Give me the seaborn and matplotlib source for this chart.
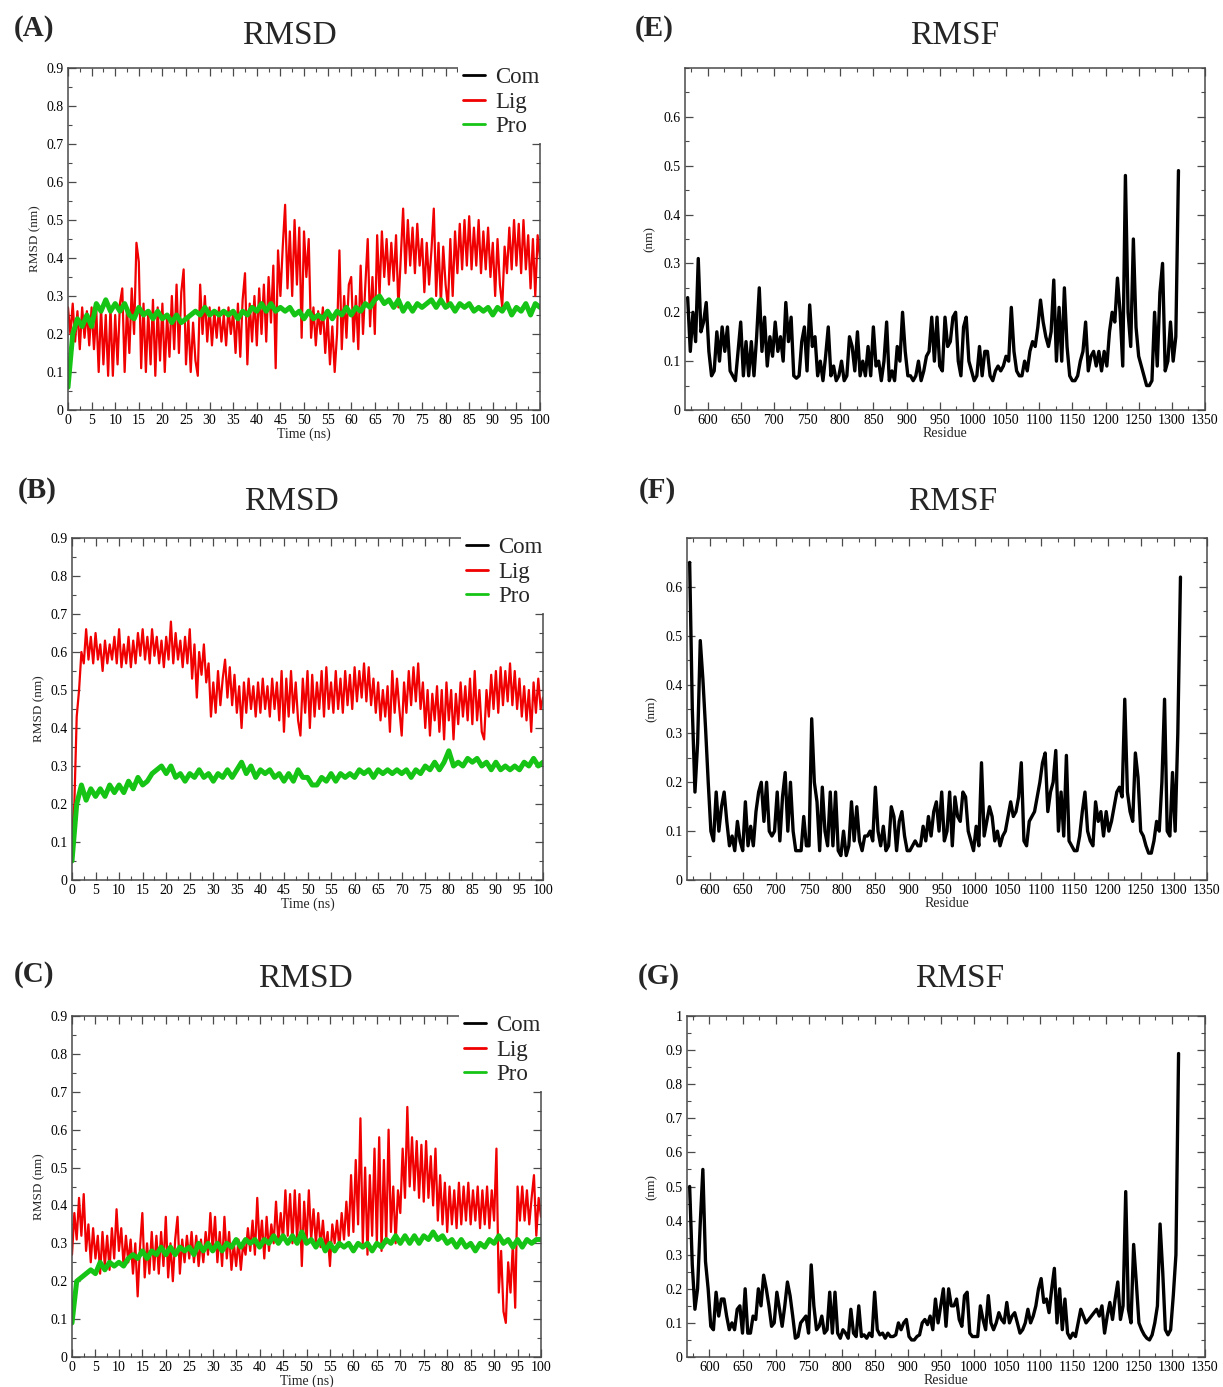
import numpy as np
import matplotlib
matplotlib.use("Agg")
import matplotlib.pyplot as plt
from matplotlib.lines import Line2D
from matplotlib.ticker import MultipleLocator, FixedLocator, FuncFormatter
import seaborn as sns

# ---------------- data ----------------
# RMSD ligand series, sampled every 0.5 ns from 0 to 100 ns
lig_A = [0.27, 0.2, 0.28, 0.18, 0.26, 0.16, 0.27, 0.19, 0.26, 0.17,
         0.27, 0.16, 0.26, 0.1, 0.27, 0.12, 0.25, 0.09, 0.27, 0.09,
         0.25, 0.12, 0.28, 0.32, 0.1, 0.27, 0.15, 0.32, 0.2, 0.44,
         0.39, 0.11, 0.28, 0.1, 0.26, 0.12, 0.29, 0.09, 0.27, 0.13,
         0.28, 0.1, 0.25, 0.14, 0.3, 0.16, 0.33, 0.15, 0.31, 0.37,
         0.12, 0.24, 0.1, 0.23, 0.13, 0.09, 0.33, 0.2, 0.3, 0.18,
         0.27, 0.17, 0.26, 0.19, 0.27, 0.18, 0.25, 0.17, 0.27, 0.2,
         0.26, 0.15, 0.28, 0.14, 0.29, 0.36, 0.12, 0.28, 0.18, 0.3,
         0.17, 0.32, 0.2, 0.33, 0.18, 0.35, 0.23, 0.38, 0.11, 0.42,
         0.3, 0.43, 0.54, 0.32, 0.47, 0.3, 0.5, 0.33, 0.48, 0.19,
         0.47, 0.35, 0.45, 0.19, 0.27, 0.17, 0.26, 0.2, 0.27, 0.15,
         0.25, 0.12, 0.22, 0.1, 0.2, 0.42, 0.16, 0.3, 0.19, 0.33,
         0.35, 0.18, 0.3, 0.16, 0.38, 0.2, 0.33, 0.45, 0.22, 0.35,
         0.2, 0.46, 0.3, 0.47, 0.35, 0.45, 0.33, 0.44, 0.34, 0.46,
         0.27, 0.4, 0.53, 0.36, 0.5, 0.38, 0.48, 0.36, 0.49, 0.38,
         0.45, 0.31, 0.44, 0.33, 0.42, 0.53, 0.3, 0.44, 0.28, 0.43,
         0.33, 0.27, 0.45, 0.3, 0.47, 0.36, 0.49, 0.37, 0.5, 0.38,
         0.51, 0.37, 0.48, 0.38, 0.5, 0.36, 0.47, 0.37, 0.48, 0.35,
         0.44, 0.3, 0.45, 0.33, 0.27, 0.43, 0.36, 0.48, 0.37, 0.5,
         0.38, 0.49, 0.36, 0.5, 0.37, 0.46, 0.32, 0.45, 0.3, 0.46,
         0.4]
lig_B = [0.12, 0.2, 0.43, 0.5, 0.6, 0.57, 0.66, 0.58, 0.64, 0.57,
         0.65, 0.58, 0.62, 0.55, 0.63, 0.57, 0.62, 0.58, 0.64, 0.57,
         0.66, 0.56, 0.62, 0.57, 0.64, 0.56, 0.63, 0.57, 0.65, 0.59,
         0.66, 0.58, 0.64, 0.57, 0.66, 0.59, 0.64, 0.57, 0.63, 0.56,
         0.64, 0.58, 0.68, 0.57, 0.65, 0.58, 0.63, 0.56, 0.64, 0.57,
         0.66, 0.53, 0.62, 0.48, 0.6, 0.54, 0.62, 0.52, 0.57, 0.43,
         0.52, 0.44, 0.55, 0.46, 0.53, 0.58, 0.48, 0.56, 0.46, 0.54,
         0.44, 0.51, 0.4, 0.52, 0.44, 0.53, 0.45, 0.51, 0.43, 0.52,
         0.44, 0.53, 0.45, 0.51, 0.43, 0.53, 0.45, 0.52, 0.42, 0.55,
         0.39, 0.53, 0.43, 0.55, 0.44, 0.52, 0.42, 0.38, 0.53, 0.44,
         0.55, 0.4, 0.54, 0.43, 0.52, 0.45, 0.55, 0.43, 0.56, 0.45,
         0.52, 0.44, 0.55, 0.45, 0.53, 0.44, 0.55, 0.46, 0.54, 0.45,
         0.56, 0.47, 0.55, 0.48, 0.57, 0.47, 0.56, 0.46, 0.53, 0.44,
         0.52, 0.42, 0.5, 0.43, 0.51, 0.39, 0.55, 0.44, 0.53, 0.45,
         0.38, 0.52, 0.44, 0.55, 0.46, 0.56, 0.47, 0.57, 0.45, 0.52,
         0.4, 0.5, 0.38, 0.49, 0.42, 0.51, 0.39, 0.5, 0.37, 0.52,
         0.42, 0.5, 0.37, 0.49, 0.41, 0.52, 0.43, 0.51, 0.42, 0.53,
         0.41, 0.55, 0.42, 0.5, 0.39, 0.37, 0.5, 0.43, 0.54, 0.45,
         0.55, 0.44, 0.56, 0.46, 0.55, 0.47, 0.57, 0.46, 0.55, 0.45,
         0.53, 0.43, 0.51, 0.42, 0.5, 0.39, 0.52, 0.44, 0.53, 0.45,
         0.48]
lig_C = [0.27, 0.38, 0.31, 0.42, 0.32, 0.43, 0.28, 0.35, 0.25, 0.34,
         0.26, 0.32, 0.22, 0.33, 0.24, 0.32, 0.23, 0.34, 0.26, 0.39,
         0.28, 0.34, 0.24, 0.32, 0.25, 0.31, 0.22, 0.3, 0.16, 0.29,
         0.38, 0.21, 0.3, 0.22, 0.33, 0.23, 0.32, 0.22, 0.33, 0.24,
         0.37, 0.21, 0.3, 0.2, 0.31, 0.37, 0.22, 0.31, 0.25, 0.32,
         0.26, 0.33, 0.25, 0.32, 0.24, 0.31, 0.25, 0.33, 0.27, 0.38,
         0.28, 0.37, 0.25, 0.33, 0.24, 0.37, 0.26, 0.33, 0.23, 0.3,
         0.24, 0.31, 0.23, 0.3, 0.27, 0.34, 0.28, 0.36, 0.27, 0.42,
         0.29, 0.36, 0.26, 0.37, 0.28, 0.35, 0.3, 0.41, 0.3, 0.38,
         0.31, 0.44, 0.32, 0.43, 0.3, 0.44, 0.31, 0.43, 0.24, 0.41,
         0.3, 0.44, 0.31, 0.39, 0.3, 0.38, 0.29, 0.36, 0.28, 0.33,
         0.24, 0.35, 0.3, 0.36, 0.29, 0.38, 0.31, 0.41, 0.32, 0.48,
         0.33, 0.52, 0.35, 0.63, 0.3, 0.5, 0.27, 0.48, 0.32, 0.55,
         0.3, 0.58, 0.28, 0.52, 0.3, 0.6, 0.33, 0.45, 0.3, 0.44,
         0.38, 0.55, 0.42, 0.66, 0.45, 0.58, 0.44, 0.57, 0.42, 0.56,
         0.41, 0.57, 0.42, 0.53, 0.4, 0.55, 0.36, 0.48, 0.35, 0.46,
         0.33, 0.45, 0.35, 0.44, 0.34, 0.46, 0.35, 0.45, 0.36, 0.46,
         0.35, 0.44, 0.36, 0.45, 0.34, 0.44, 0.35, 0.45, 0.34, 0.44,
         0.36, 0.55, 0.17, 0.28, 0.12, 0.09, 0.25, 0.17, 0.3, 0.13,
         0.45, 0.36, 0.45, 0.36, 0.44, 0.35, 0.42, 0.48, 0.32, 0.42,
         0.37]

# RMSD protein series, sampled every 1 ns from 0 to 100 ns
pro_A = [0.06, 0.2, 0.24, 0.22, 0.25, 0.22, 0.28, 0.26, 0.29, 0.26,
         0.28, 0.26, 0.28, 0.25, 0.24, 0.27, 0.25, 0.26, 0.24, 0.26,
         0.24, 0.25, 0.23, 0.25, 0.23, 0.24, 0.25, 0.26, 0.25, 0.27,
         0.25, 0.26, 0.25, 0.26, 0.25, 0.26, 0.24, 0.26, 0.25, 0.27,
         0.26, 0.28, 0.26, 0.28, 0.26, 0.27, 0.26, 0.27, 0.25, 0.26,
         0.24, 0.26, 0.24, 0.25, 0.24, 0.26, 0.24, 0.26, 0.25, 0.27,
         0.25, 0.27, 0.26, 0.28, 0.27, 0.29, 0.3, 0.28, 0.29, 0.27,
         0.29, 0.26, 0.28, 0.26, 0.28, 0.27, 0.28, 0.29, 0.27, 0.29,
         0.27, 0.28, 0.26, 0.28, 0.27, 0.28, 0.26, 0.27, 0.26, 0.27,
         0.25, 0.27, 0.26, 0.28, 0.25, 0.27, 0.26, 0.28, 0.25, 0.28,
         0.27]
pro_B = [0.05, 0.2, 0.25, 0.21, 0.24, 0.22, 0.24, 0.22, 0.25, 0.23,
         0.25, 0.23, 0.26, 0.24, 0.27, 0.25, 0.26, 0.28, 0.29, 0.3,
         0.28, 0.3, 0.27, 0.28, 0.26, 0.28, 0.27, 0.29, 0.27, 0.28,
         0.26, 0.28, 0.27, 0.29, 0.27, 0.29, 0.31, 0.28, 0.3, 0.27,
         0.29, 0.28, 0.29, 0.27, 0.28, 0.26, 0.28, 0.26, 0.29, 0.27,
         0.27, 0.25, 0.25, 0.27, 0.26, 0.28, 0.26, 0.28, 0.27, 0.28,
         0.27, 0.29, 0.28, 0.29, 0.27, 0.29, 0.28, 0.29, 0.28, 0.29,
         0.28, 0.29, 0.27, 0.29, 0.28, 0.3, 0.29, 0.31, 0.29, 0.31,
         0.34, 0.3, 0.31, 0.3, 0.32, 0.31, 0.32, 0.3, 0.31, 0.29,
         0.31, 0.29, 0.3, 0.29, 0.3, 0.29, 0.31, 0.3, 0.32, 0.3,
         0.31]
pro_C = [0.09, 0.2, 0.21, 0.22, 0.23, 0.22, 0.25, 0.23, 0.25, 0.24,
         0.25, 0.24, 0.26, 0.27, 0.26, 0.28, 0.26, 0.28, 0.27, 0.29,
         0.27, 0.29, 0.27, 0.29, 0.28, 0.29, 0.27, 0.3, 0.28, 0.3,
         0.28, 0.3, 0.28, 0.3, 0.29, 0.31, 0.29, 0.31, 0.3, 0.31,
         0.29, 0.31, 0.3, 0.32, 0.3, 0.32, 0.3, 0.32, 0.3, 0.33,
         0.3, 0.31, 0.29, 0.31, 0.28, 0.3, 0.28, 0.3, 0.29, 0.3,
         0.28, 0.3, 0.29, 0.3, 0.28, 0.3, 0.29, 0.31, 0.3, 0.32,
         0.3, 0.32, 0.3, 0.32, 0.3, 0.32, 0.31, 0.33, 0.31, 0.32,
         0.3, 0.31, 0.29, 0.31, 0.29, 0.3, 0.28, 0.3, 0.29, 0.31,
         0.3, 0.32, 0.3, 0.31, 0.29, 0.31, 0.29, 0.31, 0.3, 0.31,
         0.31]

# RMSF series, residues 570, 574, ... (step 4)
rmsf_E = [0.23, 0.12, 0.2, 0.14, 0.31, 0.16, 0.18, 0.22, 0.12, 0.07,
          0.08, 0.16, 0.1, 0.17, 0.12, 0.17, 0.08, 0.07, 0.06, 0.12,
          0.18, 0.07, 0.14, 0.07, 0.14, 0.07, 0.15, 0.25, 0.12, 0.19,
          0.09, 0.15, 0.11, 0.18, 0.12, 0.15, 0.1, 0.22, 0.14, 0.19,
          0.07, 0.065, 0.07, 0.14, 0.17, 0.08, 0.215, 0.13, 0.15, 0.07,
          0.1, 0.06, 0.11, 0.17, 0.07, 0.09, 0.06, 0.07, 0.1, 0.06,
          0.07, 0.15, 0.13, 0.08, 0.16, 0.07, 0.1, 0.07, 0.13, 0.07,
          0.17, 0.09, 0.1, 0.06, 0.1, 0.18, 0.06, 0.08, 0.06, 0.13,
          0.1, 0.2, 0.12, 0.07, 0.07, 0.06, 0.07, 0.1, 0.06, 0.08,
          0.11, 0.12, 0.19, 0.1, 0.19, 0.09, 0.08, 0.19, 0.13, 0.14,
          0.19, 0.2, 0.1, 0.07, 0.17, 0.19, 0.1, 0.08, 0.06, 0.07,
          0.13, 0.07, 0.12, 0.12, 0.07, 0.06, 0.08, 0.09, 0.08, 0.09,
          0.11, 0.1, 0.21, 0.12, 0.08, 0.07, 0.07, 0.1, 0.08, 0.12,
          0.14, 0.13, 0.17, 0.225, 0.18, 0.15, 0.13, 0.16, 0.266, 0.1,
          0.21, 0.1, 0.25, 0.13, 0.07, 0.06, 0.06, 0.07, 0.1, 0.12,
          0.18, 0.08, 0.11, 0.12, 0.09, 0.12, 0.08, 0.12, 0.09, 0.16,
          0.2, 0.18, 0.27, 0.2, 0.09, 0.48, 0.2, 0.13, 0.35, 0.17,
          0.11, 0.09, 0.07, 0.05, 0.05, 0.06, 0.2, 0.09, 0.24, 0.3,
          0.08, 0.1, 0.18, 0.1, 0.15, 0.49]
rmsf_F = [0.65, 0.35, 0.18, 0.28, 0.49, 0.41, 0.31, 0.2, 0.1, 0.08,
          0.18, 0.1, 0.15, 0.18, 0.12, 0.07, 0.09, 0.06, 0.12, 0.08,
          0.06, 0.16, 0.07, 0.11, 0.07, 0.14, 0.18, 0.2, 0.12, 0.2,
          0.1, 0.09, 0.1, 0.18, 0.08, 0.17, 0.22, 0.1, 0.2, 0.1,
          0.06, 0.06, 0.06, 0.13, 0.07, 0.07, 0.33, 0.2, 0.16, 0.06,
          0.19, 0.1, 0.07, 0.18, 0.07, 0.18, 0.06, 0.05, 0.1, 0.05,
          0.07, 0.16, 0.08, 0.15, 0.08, 0.06, 0.09, 0.09, 0.1, 0.08,
          0.19, 0.1, 0.07, 0.11, 0.06, 0.07, 0.15, 0.13, 0.06, 0.12,
          0.14, 0.09, 0.06, 0.06, 0.07, 0.08, 0.07, 0.07, 0.11, 0.08,
          0.13, 0.09, 0.14, 0.16, 0.1, 0.18, 0.08, 0.1, 0.18, 0.07,
          0.17, 0.13, 0.12, 0.18, 0.17, 0.1, 0.08, 0.06, 0.11, 0.07,
          0.24, 0.09, 0.12, 0.15, 0.13, 0.08, 0.1, 0.07, 0.09, 0.1,
          0.13, 0.16, 0.13, 0.14, 0.17, 0.24, 0.08, 0.07, 0.12, 0.13,
          0.14, 0.17, 0.2, 0.24, 0.26, 0.14, 0.18, 0.2, 0.265, 0.1,
          0.18, 0.09, 0.255, 0.08, 0.07, 0.06, 0.06, 0.09, 0.14, 0.18,
          0.1, 0.08, 0.07, 0.16, 0.12, 0.14, 0.09, 0.14, 0.1, 0.12,
          0.15, 0.18, 0.19, 0.17, 0.37, 0.18, 0.14, 0.12, 0.26, 0.21,
          0.1, 0.09, 0.07, 0.055, 0.055, 0.08, 0.12, 0.1, 0.2, 0.37,
          0.1, 0.09, 0.22, 0.1, 0.3, 0.62]
rmsf_G = [0.5, 0.27, 0.14, 0.2, 0.39, 0.55, 0.28, 0.2, 0.09, 0.08,
          0.19, 0.12, 0.17, 0.17, 0.12, 0.08, 0.1, 0.08, 0.14, 0.15,
          0.07, 0.2, 0.07, 0.07, 0.12, 0.11, 0.2, 0.15, 0.24, 0.2,
          0.15, 0.09, 0.1, 0.19, 0.14, 0.09, 0.15, 0.22, 0.18, 0.12,
          0.055, 0.06, 0.1, 0.11, 0.12, 0.07, 0.27, 0.15, 0.08, 0.09,
          0.12, 0.07, 0.08, 0.19, 0.07, 0.19, 0.07, 0.055, 0.08, 0.07,
          0.055, 0.14, 0.07, 0.06, 0.15, 0.06, 0.065, 0.055, 0.07, 0.06,
          0.19, 0.08, 0.065, 0.07, 0.055, 0.07, 0.06, 0.06, 0.065, 0.1,
          0.08, 0.1, 0.11, 0.06, 0.05, 0.05, 0.06, 0.065, 0.1, 0.11,
          0.095, 0.12, 0.08, 0.17, 0.1, 0.15, 0.2, 0.09, 0.2, 0.15,
          0.15, 0.17, 0.11, 0.09, 0.18, 0.19, 0.07, 0.06, 0.06, 0.06,
          0.15, 0.11, 0.08, 0.18, 0.1, 0.08, 0.1, 0.13, 0.11, 0.1,
          0.16, 0.1, 0.12, 0.13, 0.1, 0.07, 0.08, 0.1, 0.14, 0.1,
          0.12, 0.15, 0.2, 0.23, 0.16, 0.17, 0.13, 0.2, 0.26, 0.1,
          0.2, 0.08, 0.17, 0.07, 0.055, 0.07, 0.06, 0.1, 0.14, 0.12,
          0.1, 0.11, 0.12, 0.13, 0.14, 0.12, 0.15, 0.07, 0.12, 0.16,
          0.11, 0.17, 0.22, 0.11, 0.15, 0.485, 0.14, 0.1, 0.33, 0.22,
          0.1, 0.08, 0.065, 0.055, 0.05, 0.065, 0.1, 0.15, 0.39, 0.25,
          0.08, 0.065, 0.08, 0.18, 0.3, 0.89]

series_labels = ["Com", "Lig", "Pro"]
panel_letters = ["(A)", "(B)", "(C)", "(E)", "(F)", "(G)"]

# ---------------- style ----------------
sns.set_theme(style="ticks")
SERIF = ["Liberation Serif", "DejaVu Serif"]
plt.rcParams["font.family"] = SERIF

W, H = 1223, 1387
fig = plt.figure(figsize=(W / 100, H / 100), dpi=100)


def box(l, t, r, b):
    return [l / W, 1 - b / H, (r - l) / W, (b - t) / H]


FRAME = "#4a4a4a"
RED = "#f00000"
GREEN = "#16c416"
fmt = FuncFormatter(lambda v, _: ("%g" % round(v, 3)))


def style(ax):
    for s in ax.spines.values():
        s.set_color(FRAME)
        s.set_linewidth(1.1)
    ax.tick_params(which="both", direction="in", top=True, right=True,
                   colors=FRAME, labelcolor="black", labelsize=10, pad=3)
    ax.tick_params(which="major", length=6, width=0.9)
    ax.tick_params(which="minor", length=3, width=0.8)
    ax.xaxis.set_major_formatter(fmt)
    ax.yaxis.set_major_formatter(fmt)


def rmsd_panel(rect, lig, pro):
    ax = fig.add_axes(rect)
    t_lig = 0.5 * np.arange(len(lig))
    t_pro = 1.0 * np.arange(len(pro))
    sns.lineplot(x=t_lig, y=lig, ax=ax, color=RED, linewidth=1.6,
                 estimator=None, sort=False)
    sns.lineplot(x=t_pro, y=pro, ax=ax, color=GREEN, linewidth=3.6,
                 estimator=None, sort=False)
    ax.set_xlim(0, 100)
    ax.set_ylim(0, 0.9)
    ax.xaxis.set_major_locator(MultipleLocator(5))
    ax.xaxis.set_minor_locator(MultipleLocator(2.5))
    ax.yaxis.set_major_locator(MultipleLocator(0.1))
    ax.yaxis.set_minor_locator(MultipleLocator(0.05))
    ax.set_xlabel("Time (ns)", fontsize=10, labelpad=0)
    ax.set_ylabel("RMSD (nm)", fontsize=9.5, labelpad=4)
    style(ax)
    handles = [Line2D([], [], color="black", lw=2),
               Line2D([], [], color=RED, lw=2),
               Line2D([], [], color=GREEN, lw=2)]
    leg = ax.legend(handles, series_labels, loc="upper right",
                    bbox_to_anchor=(1.012, 1.02), frameon=True,
                    facecolor="white", edgecolor="none", framealpha=1,
                    fancybox=False, handlelength=0.95,
                    handletextpad=0.45, labelspacing=0.16, borderpad=0.25,
                    borderaxespad=0, prop={"family": SERIF, "size": 16.5})
    leg.set_zorder(10)
    return ax


def rmsf_panel(rect, vals, ymax, yticks):
    ax = fig.add_axes(rect)
    res = 570 + 4 * np.arange(len(vals))
    sns.lineplot(x=res, y=vals, ax=ax, color="black", linewidth=2.4,
                 estimator=None, sort=False)
    ax.set_xlim(566, 1350)
    ax.set_ylim(0, ymax)
    ax.xaxis.set_major_locator(MultipleLocator(50))
    ax.xaxis.set_minor_locator(MultipleLocator(25))
    ax.yaxis.set_major_locator(FixedLocator(yticks))
    ax.yaxis.set_minor_locator(MultipleLocator(0.05))
    ax.set_xlabel("Residue", fontsize=10, labelpad=0)
    ax.set_ylabel("(nm)", fontsize=9.5, labelpad=6)
    style(ax)
    return ax


rmsd_panel(box(68, 68, 540, 410), lig_A, pro_A)
rmsd_panel(box(72, 538, 543, 880), lig_B, pro_B)
rmsd_panel(box(72, 1016, 541, 1357), lig_C, pro_C)

rmsf_panel(box(685, 68, 1205, 410), rmsf_E, 0.7,
           [0, 0.1, 0.2, 0.3, 0.4, 0.5, 0.6])
rmsf_panel(box(687, 538, 1207, 880), rmsf_F, 0.7,
           [0, 0.1, 0.2, 0.3, 0.4, 0.5, 0.6])
rmsf_panel(box(687, 1016, 1205, 1357), rmsf_G, 1.0,
           [0, 0.1, 0.2, 0.3, 0.4, 0.5, 0.6, 0.7, 0.8, 0.9, 1.0])

# titles and panel letters
titles = [("RMSD", 289, 36), ("RMSD", 291, 502), ("RMSD", 305, 979),
          ("RMSF", 955, 36), ("RMSF", 953, 502), ("RMSF", 960, 979)]
for txt, x, y in titles:
    fig.text(x / W, 1 - y / H, txt, ha="center", va="center",
             fontsize=24, family=SERIF)

letters_pos = [(34, 28), (37, 491), (34, 975), (654, 28), (657, 491), (659, 977)]
for lab, (x, y) in zip(panel_letters, letters_pos):
    fig.text(x / W, 1 - y / H, lab, ha="center", va="center",
             fontsize=21, fontweight="bold", family=SERIF)

fig.savefig("out.png", dpi=100)
